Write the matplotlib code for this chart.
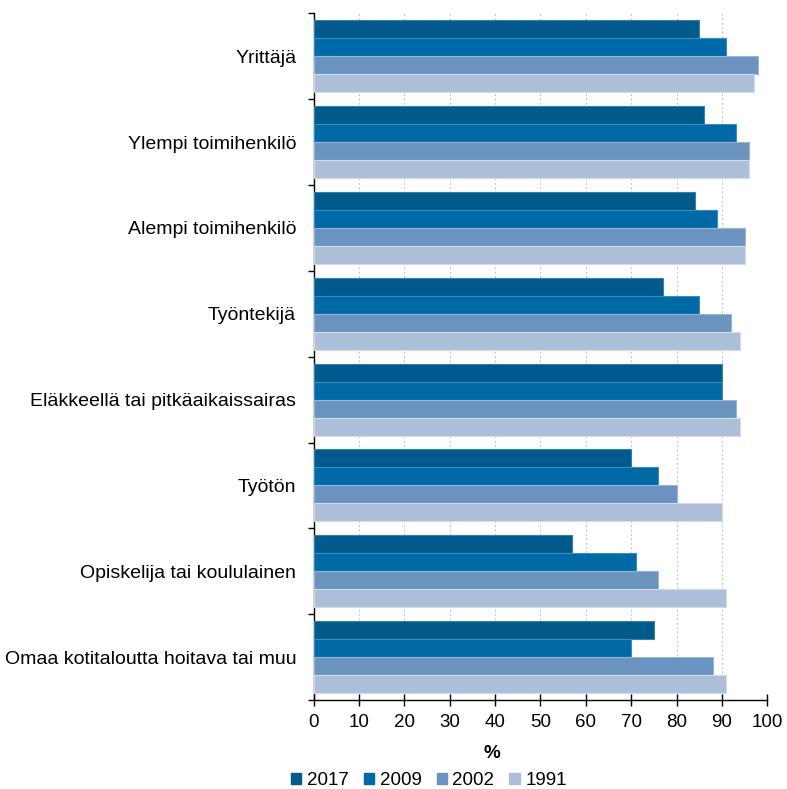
import numpy as np
import matplotlib
matplotlib.use("Agg")
import matplotlib.pyplot as plt
from matplotlib.patches import Patch

plt.rcParams['font.family'] = ['Liberation Sans', 'DejaVu Sans']

categories = [
    'Yrittäjä',
    'Ylempi toimihenkilö',
    'Alempi toimihenkilö',
    'Työntekijä',
    'Eläkkeellä tai pitkäaikaissairas',
    'Työtön',
    'Opiskelija tai koululainen',
    'Omaa kotitaloutta hoitava tai muu',
]
years = ['2017', '2009', '2002', '1991']
v2017 = [85, 86, 84, 77, 90, 70, 57, 75]
v2009 = [91, 93, 89, 85, 90, 76, 71, 70]
v2002 = [98, 96, 95, 92, 93, 80, 76, 88]
v1991 = [97, 96, 95, 94, 94, 90, 91, 91]
colors = ['#005a8c', '#006aa7', '#6a93bf', '#adbfd8']
edges = ['#3d7fa8', '#3d8cbf', '#9ab5d6', '#d0dcea']

fig = plt.figure(figsize=(7.87, 7.89), dpi=100)
ax = fig.add_axes([0.3984, 0.1128, 0.5766, 0.8703])

y = np.arange(len(categories))
h = 0.21
series = [v2017, v2009, v2002, v1991]
for k, (vals, c, e) in enumerate(zip(series, colors, edges)):
    ax.barh(y - 1.5 * h + k * h, vals, height=h, color=c,
            edgecolor=e, linewidth=0.8, zorder=3)

ax.set_xlim(0, 100)
ax.set_ylim(len(categories) - 0.5, -0.5)
ax.set_xticks(np.arange(0, 101, 10))
ax.tick_params(axis='x', direction='inout', length=8, width=1,
               labelsize=13.5, pad=6)

# category boundaries as ticks, labels in the middle
ax.set_yticks(np.arange(-0.5, len(categories), 1))
ax.set_yticklabels([])
ax.tick_params(axis='y', which='major', length=4.5, width=1)
ax.set_yticks(y, minor=True)
ax.set_yticklabels(categories, minor=True)
ax.tick_params(axis='y', which='minor', length=0, labelsize=14, pad=12.5)

ax.grid(axis='x', color='#c8c8c8', linestyle=(0, (2, 2)), linewidth=0.8, zorder=0)
for s in ['top', 'right']:
    ax.spines[s].set_visible(False)
ax.spines['left'].set_linewidth(1)
ax.spines['bottom'].set_linewidth(1)

fig.text(0.625, 0.0444, '%', fontsize=13.5, fontweight='bold',
         ha='center', va='center')

handles = [Patch(facecolor=c, edgecolor=c) for c in colors]
fig.legend(handles, years, loc='center', bbox_to_anchor=(0.545, 0.011),
           ncol=4, frameon=False, fontsize=13.5, handlelength=0.55,
           handleheight=0.55, handletextpad=0.3, columnspacing=0.8,
           borderpad=0)

fig.savefig('out.png', dpi=100)
